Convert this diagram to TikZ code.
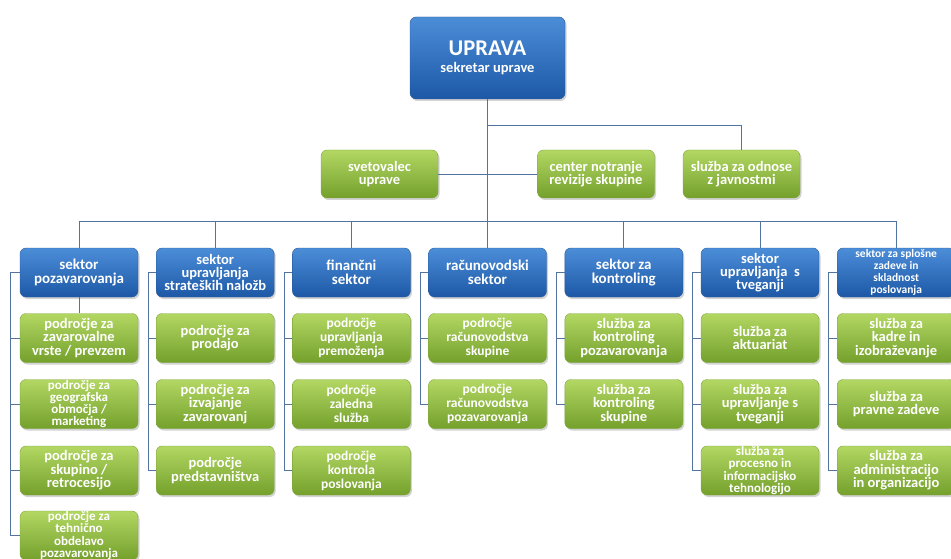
\documentclass[tikz,border=0pt]{standalone}
\usepackage{fontspec}
\setmainfont{Carlito}
\usetikzlibrary{shadows}
\definecolor{BlueTop}{HTML}{4C8DD8}
\definecolor{BlueBot}{HTML}{1C58A6}
\definecolor{BlueEdge}{HTML}{2B5D9B}
\definecolor{GreenTop}{HTML}{B3D763}
\definecolor{GreenBot}{HTML}{74A02C}
\definecolor{GreenEdge}{HTML}{80A63C}
\definecolor{Wire}{HTML}{5373A0}
\tikzset{cardbox/.style={rounded corners=6pt,minimum width=118pt,minimum height=49pt,align=center,text=white,inner sep=1pt,font=\bfseries\fontsize{14.5}{13.5}\selectfont,drop shadow={opacity=0.35,shadow xshift=1.5pt,shadow yshift=-2pt}},
headbox/.style={cardbox,draw=BlueEdge,top color=BlueTop,bottom color=BlueBot,font=\bfseries\fontsize{15}{13.5}\selectfont},
unitbox/.style={cardbox,draw=GreenEdge,top color=GreenTop,bottom color=GreenBot},
tight/.style={font=\bfseries\fontsize{13}{12.2}\selectfont,inner sep=0pt},
loose/.style={font=\bfseries\fontsize{13.5}{14}\selectfont},
wire/.style={draw=Wire,line width=0.8pt}}

\begin{document}
\begin{tikzpicture}[x=1pt,y=-1pt]
\useasboundingbox (0,0) rectangle (951,559);
% vodstvo
\node[headbox,minimum width=155pt,minimum height=82pt] (upr) at (487.5,58) {{\fontsize{22.5}{24}\selectfont UPRAVA}\\[3pt]{\fontsize{14.5}{16}\selectfont sekretar uprave}};
\node[unitbox,minimum width=117pt,minimum height=48pt] (svet) at (379.5,174) {svetovalec\\uprave};
\node[unitbox,minimum width=117pt,minimum height=48pt] (rev) at (596,174) {center notranje\\revizije skupine};
\node[unitbox,minimum width=117pt,minimum height=48pt] (odn) at (741.5,174) {služba za odnose\\z javnostmi};
\coordinate (odcep) at (487.5,125);
% sektorji
\node[headbox] (poz) at (79,272.5) {sektor\\pozavarovanja};
\node[headbox,font=\bfseries\fontsize{14.5}{13}\selectfont] (nal) at (215.2,272.5) {sektor\\upravljanja\\strateških naložb};
\node[headbox] (fin) at (351.4,272.5) {finančni\\sektor};
\node[headbox] (rac) at (487.5,272.5) {računovodski\\sektor};
\node[headbox] (kon) at (623.8,272.5) {sektor za\\kontroling};
\node[headbox,font=\bfseries\fontsize{14.5}{13}\selectfont] (tve) at (760,272.5) {sektor\\upravljanja \ s\\tveganji};
\node[headbox,font=\bfseries\fontsize{11.5}{12}\selectfont] (spl) at (896.2,272.5) {sektor za splošne\\zadeve in\\skladnost\\poslovanja};
% področja in službe
\node[unitbox] (poz1) at (79,338) {področje za\\zavarovalne\\vrste / prevzem};
\node[unitbox,tight] (poz2) at (79,404) {področje za\\geografska\\območja /\\marketing};
\node[unitbox] (poz3) at (79,470.5) {področje za\\skupino /\\retrocesijo};
\node[unitbox,tight] (poz4) at (79,535.5) {področje za\\tehnično\\obdelavo\\pozavarovanja};
\node[unitbox] (nal1) at (215.2,338) {področje za\\prodajo};
\node[unitbox] (nal2) at (215.2,404) {področje za\\izvajanje\\zavarovanj};
\node[unitbox] (nal3) at (215.2,470.5) {področje\\predstavništva};
\node[unitbox,loose] (fin1) at (351.4,338) {področje\\upravljanja\\premoženja};
\node[unitbox,loose] (fin2) at (351.4,404) {področje\\zaledna\\služba};
\node[unitbox,loose] (fin3) at (351.4,470.5) {področje\\kontrola\\poslovanja};
\node[unitbox,loose] (rac1) at (487.5,338) {področje\\računovodstva\\skupine};
\node[unitbox,loose] (rac2) at (487.5,404) {področje\\računovodstva\\pozavarovanja};
\node[unitbox] (kon1) at (623.8,338) {služba za\\kontroling\\pozavarovanja};
\node[unitbox] (kon2) at (623.8,404) {služba za\\kontroling\\skupine};
\node[unitbox] (tve1) at (760,338) {služba za\\aktuariat};
\node[unitbox] (tve2) at (760,404) {služba za\\upravljanje s\\tveganji};
\node[unitbox,tight] (tve3) at (760,470.5) {služba za\\procesno in\\informacijsko\\tehnologijo};
\node[unitbox] (spl1) at (896.2,338) {služba za\\kadre in\\izobraževanje};
\node[unitbox] (spl2) at (896.2,404) {služba za\\pravne zadeve};
\node[unitbox] (spl3) at (896.2,470.5) {služba za\\administracijo\\in organizacijo};
% povezave
\draw[wire] (upr.south) -- (rac.north);
\draw[wire] (svet.east) -- (rev.west);
\draw[wire] (odcep) -| (odn.north);
\draw[wire] (poz.north) -- ++(0,-26) -| (spl.north);
\foreach \s in {nal,fin,kon,tve} \draw[wire] (\s.north) -- ++(0,-26);
\draw[wire] (poz.south) -- (poz1.north);
\draw[wire] (poz.west) -- ++(-9,0) |- (poz4.west);
\foreach \c in {poz1,poz2,poz3} \draw[wire] (\c.west) -- ++(-9,0);
\draw[wire] (nal.west) -- ++(-8,0) |- (nal3.west);
\foreach \c in {nal1,nal2} \draw[wire] (\c.west) -- ++(-8,0);
\draw[wire] (fin.west) -- ++(-8,0) |- (fin3.west);
\foreach \c in {fin1,fin2} \draw[wire] (\c.west) -- ++(-8,0);
\draw[wire] (rac.west) -- ++(-8,0) |- (rac2.west);
\draw[wire] (rac1.west) -- ++(-8,0);
\draw[wire] (kon.west) -- ++(-8,0) |- (kon2.west);
\draw[wire] (kon1.west) -- ++(-8,0);
\draw[wire] (tve.west) -- ++(-8,0) |- (tve3.west);
\foreach \c in {tve1,tve2} \draw[wire] (\c.west) -- ++(-8,0);
\draw[wire] (spl.west) -- ++(-9,0) |- (spl3.west);
\foreach \c in {spl1,spl2} \draw[wire] (\c.west) -- ++(-9,0);
\end{tikzpicture}
\end{document}
